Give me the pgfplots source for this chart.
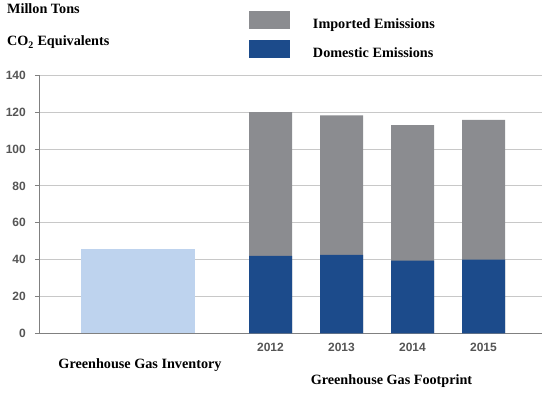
\documentclass[border=0pt]{standalone}
\usepackage{fontspec}
\setmainfont{Liberation Serif}
\setsansfont{Liberation Sans}
\usepackage{pgfplots}
\pgfplotsset{compat=1.18}
\definecolor{impgray}{HTML}{8B8C90}
\definecolor{domblue}{HTML}{1C4B8B}
\definecolor{invblue}{HTML}{BED3EE}
\definecolor{gridc}{HTML}{C8C8C8}
\definecolor{axisc}{HTML}{808080}
\definecolor{tickc}{HTML}{555555}
\begin{document}
\begin{tikzpicture}[x=1pt,y=1pt]
\path[use as bounding box] (0,0) rectangle (550,392);
\begin{axis}[
  at={(39pt,58.7pt)}, anchor=south west,
  scale only axis, width=503pt, height=258pt,
  xmin=39, xmax=542, ymin=0, ymax=140,
  ytick={0,20,...,140},
  xtick={270.5,341.5,412.5,483.5},
  xticklabels={2012,2013,2014,2015},
  ymajorgrids, grid style={gridc, line width=0.9pt},
  axis x line*=bottom, axis y line*=left,
  axis line style={axisc, line width=0.9pt},
  x axis line style={-}, y axis line style={-},
  xtick style={draw=none},
  ytick style={axisc, line width=0.8pt},
  tick align=outside, major tick length=4pt,
  /pgf/number format/assume math mode=true,
  ticklabel style={font=\sffamily\bfseries\fontsize{12}{13}\selectfont, text=tickc},
  yticklabel style={inner sep=0pt, xshift=-9pt},
  xticklabel style={inner sep=0pt, yshift=-6pt},
  clip=false,
  legend style={at={(0.4175,1.2492)}, anchor=north west, draw=none, fill=none,
    inner sep=0pt, outer sep=0pt, row sep=10pt, column sep=23pt,
    nodes={inner sep=0pt, outer sep=0pt},
    font=\bfseries\fontsize{14.2}{15}\selectfont},
  legend cell align=left,
  legend image code/.code={\fill[#1] (0pt,-4.5pt) rectangle (41pt,13.5pt);},
]
\addplot[ybar, bar width=114, bar shift=0pt, fill=invblue, draw=none, forget plot] coordinates {(138,46)};
\addplot[ybar, bar width=43, bar shift=0pt, fill=impgray, draw=none] coordinates {(270.5,120) (341.5,118.2) (412.5,113) (483.5,115.8)};
\addplot[ybar, bar width=43, bar shift=0pt, fill=domblue, draw=none] coordinates {(270.5,42) (341.5,42.5) (412.5,39.5) (483.5,40)};
\legend{Imported Emissions, Domestic Emissions}
\end{axis}
\node[anchor=base west, font=\bfseries\fontsize{14.2}{15}\selectfont, inner sep=0pt] at (7,378) {Millon Tons};
\node[anchor=base west, font=\bfseries\fontsize{14.2}{15}\selectfont, inner sep=0pt] at (7,346) {CO\textsubscript{2} Equivalents};
\node[anchor=base, font=\bfseries\fontsize{14.2}{15}\selectfont, inner sep=0pt] at (140,24) {Greenhouse Gas Inventory};
\node[anchor=base, font=\bfseries\fontsize{14.2}{15}\selectfont, inner sep=0pt] at (391.5,7.7) {Greenhouse Gas Footprint};
\end{tikzpicture}
\end{document}
